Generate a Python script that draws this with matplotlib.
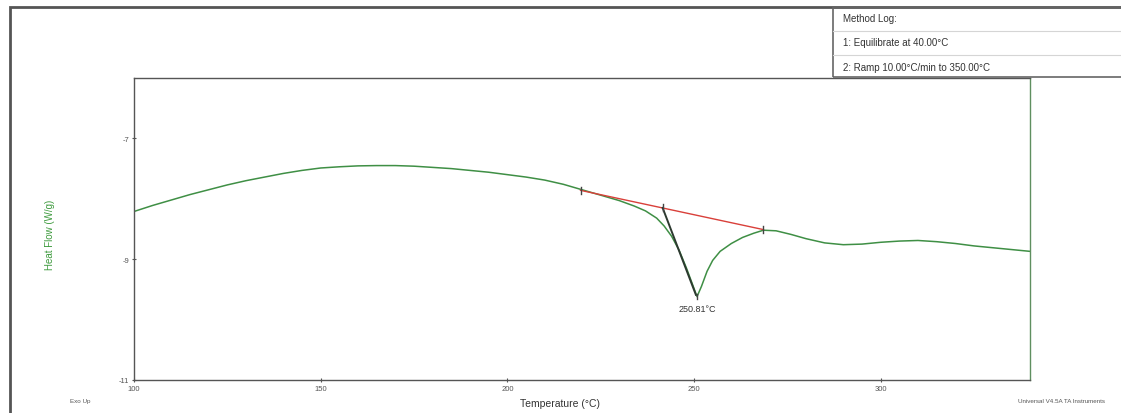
import matplotlib
matplotlib.use("Agg")
import matplotlib.pyplot as plt
from matplotlib.patches import Rectangle
from matplotlib.lines import Line2D

# DSC heat-flow trace (temperature in °C, heat flow in W/g)
temperature = [100, 105, 110, 115, 120, 125, 130, 135, 140, 145, 150, 155, 160,
               165, 170, 175, 180, 185, 190, 195, 200, 205, 210, 215, 220, 225,
               230, 234, 237, 240, 242, 244, 246, 248, 249.5, 250.81, 252,
               253.5, 255, 257, 260, 263, 266, 268.6, 272, 276, 280, 285, 290,
               295, 300, 305, 310, 315, 320, 325, 330, 335, 340]
heat_flow = [-8.21, -8.11, -8.02, -7.93, -7.85, -7.77, -7.70, -7.64, -7.58,
             -7.53, -7.49, -7.47, -7.455, -7.45, -7.45, -7.46, -7.48, -7.50,
             -7.53, -7.56, -7.60, -7.64, -7.69, -7.76, -7.85, -7.94, -8.03,
             -8.12, -8.20, -8.32, -8.45, -8.62, -8.85, -9.15, -9.40, -9.62,
             -9.45, -9.20, -9.02, -8.87, -8.74, -8.64, -8.57, -8.52, -8.53,
             -8.59, -8.66, -8.73, -8.76, -8.75, -8.72, -8.70, -8.69, -8.71,
             -8.74, -8.78, -8.81, -8.84, -8.87]

# Peak integration: baseline limits, onset point and peak
baseline_T = [219.6, 268.6]
baseline_HF = [-7.86, -8.51]
onset_T, onset_HF = 241.6, -8.15
peak_T, peak_HF = 250.81, -9.62
peak_label = "250.81°C"

x_ticks = [100, 150, 200, 250, 300]
y_ticks = [-7, -9, -11]
x_limits = (100, 340)
y_limits = (-11, -6)

method_log = ["Method Log:", "1: Equilibrate at 40.00°C",
              "2: Ramp 10.00°C/min to 350.00°C"]

W, H = 1121, 414
fig = plt.figure(figsize=(W / 100, H / 100), dpi=100)
plt.rcParams['font.family'] = ['Liberation Sans', 'DejaVu Sans']

def fx(px):
    return px / W

def fy(py):
    return 1 - py / H

# outer page frame
fig.patches.append(Rectangle((fx(10), fy(430)), fx(1200), fy(8) - fy(430),
                             transform=fig.transFigure, fill=False,
                             edgecolor='#555555', linewidth=2.0))

# method log box
fig.patches.append(Rectangle((fx(833), fy(78)), fx(400), fy(8) - fy(78),
                             transform=fig.transFigure, fill=False,
                             edgecolor='#666666', linewidth=1.2))
for yy in (32, 56):
    fig.lines.append(Line2D([fx(833), fx(1121)], [fy(yy), fy(yy)],
                            transform=fig.transFigure, color='#d5d5d5',
                            linewidth=0.8))
for i, txt in enumerate(method_log):
    fig.text(fx(843), fy(19 + 24.5 * i), txt, fontsize=7, color='#333333',
             va='center', ha='left')

ax = fig.add_axes([fx(134), fy(381), fx(1030) - fx(134), fy(79) - fy(381)])
ax.plot(temperature, heat_flow, color='#3f8f45', linewidth=1.1)
ax.plot(baseline_T, baseline_HF, color='#d9403a', linewidth=1.0)
ax.plot([onset_T, peak_T - 0.3], [onset_HF, peak_HF + 0.03],
        color='#2d3a30', linewidth=1.4)

# small vertical marks at the integration limits and onset
for t, h in [(baseline_T[0], baseline_HF[0]), (baseline_T[1], baseline_HF[1]),
             (onset_T, onset_HF)]:
    ax.plot([t, t], [h - 0.06, h + 0.06], color='#444444', linewidth=1.0)
ax.plot([peak_T, peak_T], [peak_HF - 0.04, peak_HF + 0.04], color='#444444',
        linewidth=1.0)
ax.text(peak_T, peak_HF - 0.12, peak_label, ha='center', va='top',
        fontsize=6.5, color='#333333')

ax.set_xlim(*x_limits)
ax.set_ylim(*y_limits)
ax.set_xticks(x_ticks)
ax.set_xticklabels([str(v) for v in x_ticks])
ax.set_yticks(y_ticks)
ax.set_yticklabels([str(v) for v in y_ticks])
ax.tick_params(axis='both', labelsize=5.5, colors='#555555', length=3,
               width=0.8, direction='inout', pad=2)
for side in ('left', 'bottom', 'top'):
    ax.spines[side].set_color('#555555')
    ax.spines[side].set_linewidth(1.0)
ax.spines['right'].set_color('#5f8f60')
ax.spines['right'].set_linewidth(1.0)

fig.text(fx(50), fy(235), "Heat Flow (W/g)", rotation=90, color='#3d9a3d',
         fontsize=7, ha='center', va='center')
fig.text(fx(560), fy(404), "Temperature (°C)", color='#333333', fontsize=7.5,
         ha='center', va='center')
fig.text(fx(80), fy(402), "Exo Up", color='#555555', fontsize=4.5,
         ha='center', va='center')
fig.text(fx(1062), fy(402), "Universal V4.5A TA Instruments",
         color='#555555', fontsize=4.5, ha='center', va='center')

fig.savefig("out.png", dpi=100)
